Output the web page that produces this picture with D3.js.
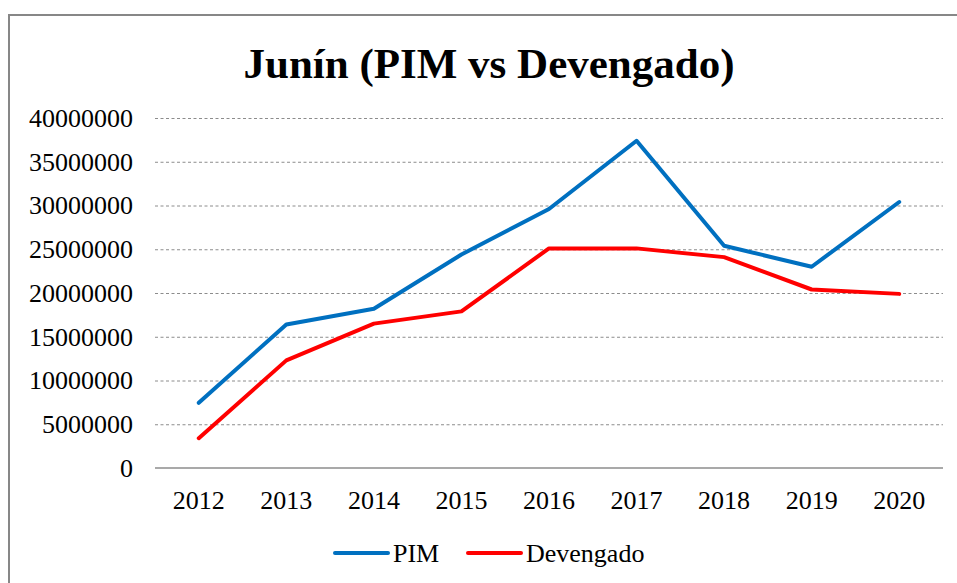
<!DOCTYPE html>
<html>
<head>
<meta charset="utf-8">
<script src="https://cdn.jsdelivr.net/npm/d3@7.9.0/dist/d3.min.js"></script>
<style>
  body { margin: 0; background: #fff; }
  svg { display: block; }
</style>
</head>
<body>
<svg id="chart" width="957" height="583"></svg>
<script>
const years = ['2012', '2013', '2014', '2015', '2016', '2017', '2018', '2019', '2020'];
const pim = [7450000, 16400000, 18200000, 24400000, 29600000, 37400000, 25400000, 23000000, 30400000];
const devengado = [3400000, 12300000, 16500000, 17900000, 25100000, 25100000, 24100000, 20400000, 19900000];
const yTicks = [0, 5000000, 10000000, 15000000, 20000000, 25000000, 30000000, 35000000, 40000000];

const FONT = 'Liberation Serif';
const svg = d3.select('#chart');
const plot = { left: 155, right: 943, top: 118, bottom: 468 };

// outer frame (runs off the right and bottom edges)
svg.append('rect')
  .attr('x', 9).attr('y', 15)
  .attr('width', 1000).attr('height', 700)
  .attr('fill', 'none')
  .attr('stroke', '#878787')
  .attr('stroke-width', 2);

svg.append('text')
  .attr('x', 489).attr('y', 78)
  .attr('text-anchor', 'middle')
  .attr('font-family', FONT)
  .attr('font-size', 43)
  .attr('font-weight', 'bold')
  .text('Junín (PIM vs Devengado)');

let x = d3.scaleBand().domain(years).range([plot.left, plot.right]).padding(0);
let y = d3.scaleLinear().domain([0, 40000000]).range([plot.bottom, plot.top]);
const cx = (d) => x(d) + x.bandwidth() / 2;

// dashed gridlines
const grid = svg.append('g')
  .attr('transform', `translate(${plot.left},0)`)
  .call(d3.axisLeft(y).tickValues(yTicks.filter((t) => t > 0)).tickSize(-(plot.right - plot.left)).tickFormat(''));
grid.select('.domain').remove();
grid.selectAll('line')
  .attr('stroke', '#8c8c8c')
  .attr('stroke-dasharray', '3,2.5');

// y labels
svg.append('g')
  .selectAll('text')
  .data(yTicks)
  .join('text')
  .attr('x', 133)
  .attr('y', (d) => y(d))
  .attr('dy', '0.34em')
  .attr('text-anchor', 'end')
  .attr('font-family', FONT)
  .attr('font-size', 26)
  .text((d) => d);

// baseline
svg.append('line')
  .attr('x1', plot.left).attr('x2', plot.right)
  .attr('y1', y(0)).attr('y2', y(0))
  .attr('stroke', '#8c8c8c')
  .attr('stroke-width', 1.5);

// x labels
svg.append('g')
  .selectAll('text')
  .data(years)
  .join('text')
  .attr('x', (d) => cx(d))
  .attr('y', 509)
  .attr('text-anchor', 'middle')
  .attr('font-family', FONT)
  .attr('font-size', 26)
  .text((d) => d);

let line = d3.line().x((d, i) => cx(years[i])).y((d) => y(d));

svg.append('path')
  .attr('d', line(pim))
  .attr('fill', 'none')
  .attr('stroke', '#0070c0')
  .attr('stroke-width', 4)
  .attr('stroke-linejoin', 'round')
  .attr('stroke-linecap', 'round');

svg.append('path')
  .attr('d', line(devengado))
  .attr('fill', 'none')
  .attr('stroke', '#ff0000')
  .attr('stroke-width', 4)
  .attr('stroke-linejoin', 'round')
  .attr('stroke-linecap', 'round');

// legend
const legendItems = [
  { label: 'PIM', color: '#0070c0', x: 335 },
  { label: 'Devengado', color: '#ff0000', x: 468 }
];
const legend = svg.append('g');
legendItems.forEach((d) => {
  legend.append('line')
    .attr('x1', d.x).attr('x2', d.x + 53)
    .attr('y1', 553).attr('y2', 553)
    .attr('stroke', d.color)
    .attr('stroke-width', 4)
    .attr('stroke-linecap', 'round');
  legend.append('text')
    .attr('x', d.x + 58)
    .attr('y', 562)
    .attr('font-family', FONT)
    .attr('font-size', 26)
    .text(d.label);
});
</script>
</body>
</html>
